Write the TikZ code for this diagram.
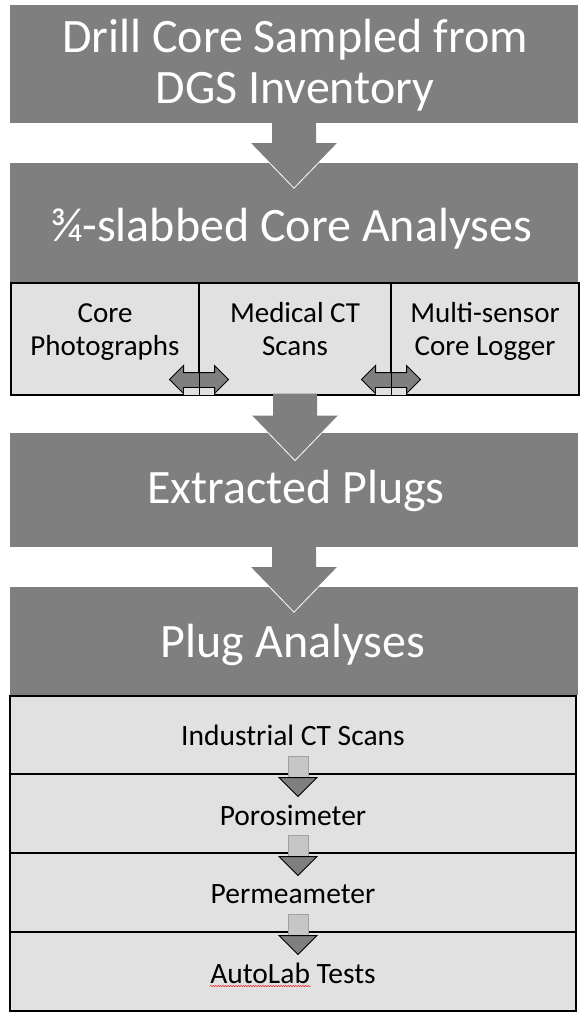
\documentclass[tikz,border=0pt]{standalone}
\usepackage{fontspec}
\setmainfont{Carlito}
\usetikzlibrary{calc,decorations.pathmorphing}
\definecolor{boxgray}{HTML}{7F7F7F}
\definecolor{cellgray}{HTML}{E1E1E1}
\definecolor{shaftgray}{HTML}{C6C6C6}
\definecolor{shaftline}{HTML}{A0A0A0}

% wide block arrow leaving the bottom of a stage box
\newcommand\stagearrow[1]{%
  \fill[boxgray] ($(#1)+(-22,-2)$) -- ($(#1)+(22,-2)$) -- ($(#1)+(22,20)$)
    -- ($(#1)+(43.5,20)$) -- ($(#1)+(0,65)$) -- ($(#1)+(-43.5,20)$)
    -- ($(#1)+(-22,20)$) -- cycle;
  \draw[white, line width=0.8pt] ($(#1)+(-43.5,20)$) -- ($(#1)+(0,65)$)
    -- ($(#1)+(43.5,20)$);
}

% two-headed arrow sitting on a divider between two cells
\newcommand\swaparrow[1]{%
  \begin{scope}[shift={(#1)}]
    \draw[black, fill=boxgray, line width=0.9pt] (-30,-16) -- (-16,-30) -- (-16,-23)
      -- (15,-23) -- (15,-30) -- (29,-16) -- (15,-2) -- (15,-8) -- (-16,-8)
      -- (-16,-2) -- cycle;
    \draw[black, fill=cellgray, line width=0.9pt] (-16,-8) rectangle (15,0);
  \end{scope}
}

% small step arrow crossing a row separator
\newcommand\steparrow[1]{%
  \begin{scope}[shift={(#1)}]
    \draw[shaftline, fill=shaftgray, line width=0.8pt] (-10,-18) rectangle (10,3);
    \draw[black, fill=boxgray, line width=0.9pt] (-19,3) -- (19,3) -- (0,22) -- cycle;
  \end{scope}
}

\begin{document}
\begin{tikzpicture}[x=1pt, y=-1pt,
  stage/.style={fill=boxgray, inner sep=0pt},
  stagetext/.style={text=white, inner sep=0pt, align=center,
    font=\fontsize{48}{51}\selectfont},
  cell/.style={fill=cellgray, draw=black, line width=1.1pt, inner sep=0pt},
  celltext/.style={align=center, inner sep=0pt, font=\fontsize{29}{33}\selectfont},
  plugtext/.style={anchor=base, inner sep=0pt, font=\fontsize{29.5}{33}\selectfont}]

\useasboundingbox (0,0) rectangle (580,1014);

% stage boxes
\node[stage, minimum width=568pt, minimum height=118pt] (b1) at (294,64) {};
\node[stage, minimum width=568pt, minimum height=120pt] (b2) at (294,223) {};
\node[stage, minimum width=568pt, minimum height=114pt] (b3) at (294,490) {};
\node[stage, minimum width=568pt, minimum height=108pt] (b4) at (294,641) {};
\node[stagetext] (s1) at (295,67.5) {\strut Drill Core Sampled from\\\strut DGS Inventory};
\node[stagetext, anchor=base] (s2) at (291,241) {¾-slabbed Core Analyses};
\node[stagetext, anchor=base] (s3) at (296,503) {Extracted Plugs};
\node[stagetext, anchor=base] (s4) at (293,657) {Plug Analyses};

% core analysis cells
\node[cell, minimum width=188pt, minimum height=112pt] (c1) at (105,339) {};
\node[cell, minimum width=192pt, minimum height=112pt] (c2) at (295,339) {};
\node[cell, minimum width=188pt, minimum height=112pt] (c3) at (485,339) {};
\node[celltext] (t1) at ($(c1.center)+(0,-7)$) {\strut Core\\\strut Photographs};
\node[celltext] (t2) at ($(c2.center)+(0,-7)$) {\strut Medical CT\\\strut Scans};
\node[celltext] (t3) at ($(c3.center)+(0,-7)$) {\strut Multi-sensor\\\strut Core Logger};

\swaparrow{c1.south east}
\swaparrow{c2.south east}
\draw[black, line width=1.1pt] (c1.north east) -- (c1.south east);
\draw[black, line width=1.1pt] (c2.north east) -- (c2.south east);

% plug analysis rows
\node[cell, minimum width=566pt, minimum height=78pt] (p1) at (293,735) {};
\node[cell, minimum width=566pt, minimum height=79pt] (p2) at (293,813.5) {};
\node[cell, minimum width=566pt, minimum height=79pt] (p3) at (293,892.5) {};
\node[cell, minimum width=566pt, minimum height=79pt] (p4) at (293,971.5) {};
\node[plugtext] (q1) at ($(p1.center)+(0,10)$) {Industrial CT Scans};
\node[plugtext] (q2) at ($(p2.center)+(0,12)$) {Porosimeter};
\node[plugtext] (q3) at ($(p3.center)+(0,10.5)$) {Permeameter};
\node[plugtext] (q4) at ($(p4.center)+(0,11.5)$) {AutoLab Tests};
\draw[red, line width=0.4pt, decorate,
  decoration={snake, amplitude=0.6pt, segment length=2.5pt}]
  ($(q4.base west)+(0,3)$) -- ($(q4.base west)+(101,3)$);

\steparrow{$(p1.south)+(5,0)$}
\steparrow{$(p2.south)+(5,0)$}
\steparrow{$(p3.south)+(5,0)$}

% flow between stages
\stagearrow{b1.south}
\stagearrow{c2.south}
\stagearrow{b3.south}

\end{tikzpicture}
\end{document}
